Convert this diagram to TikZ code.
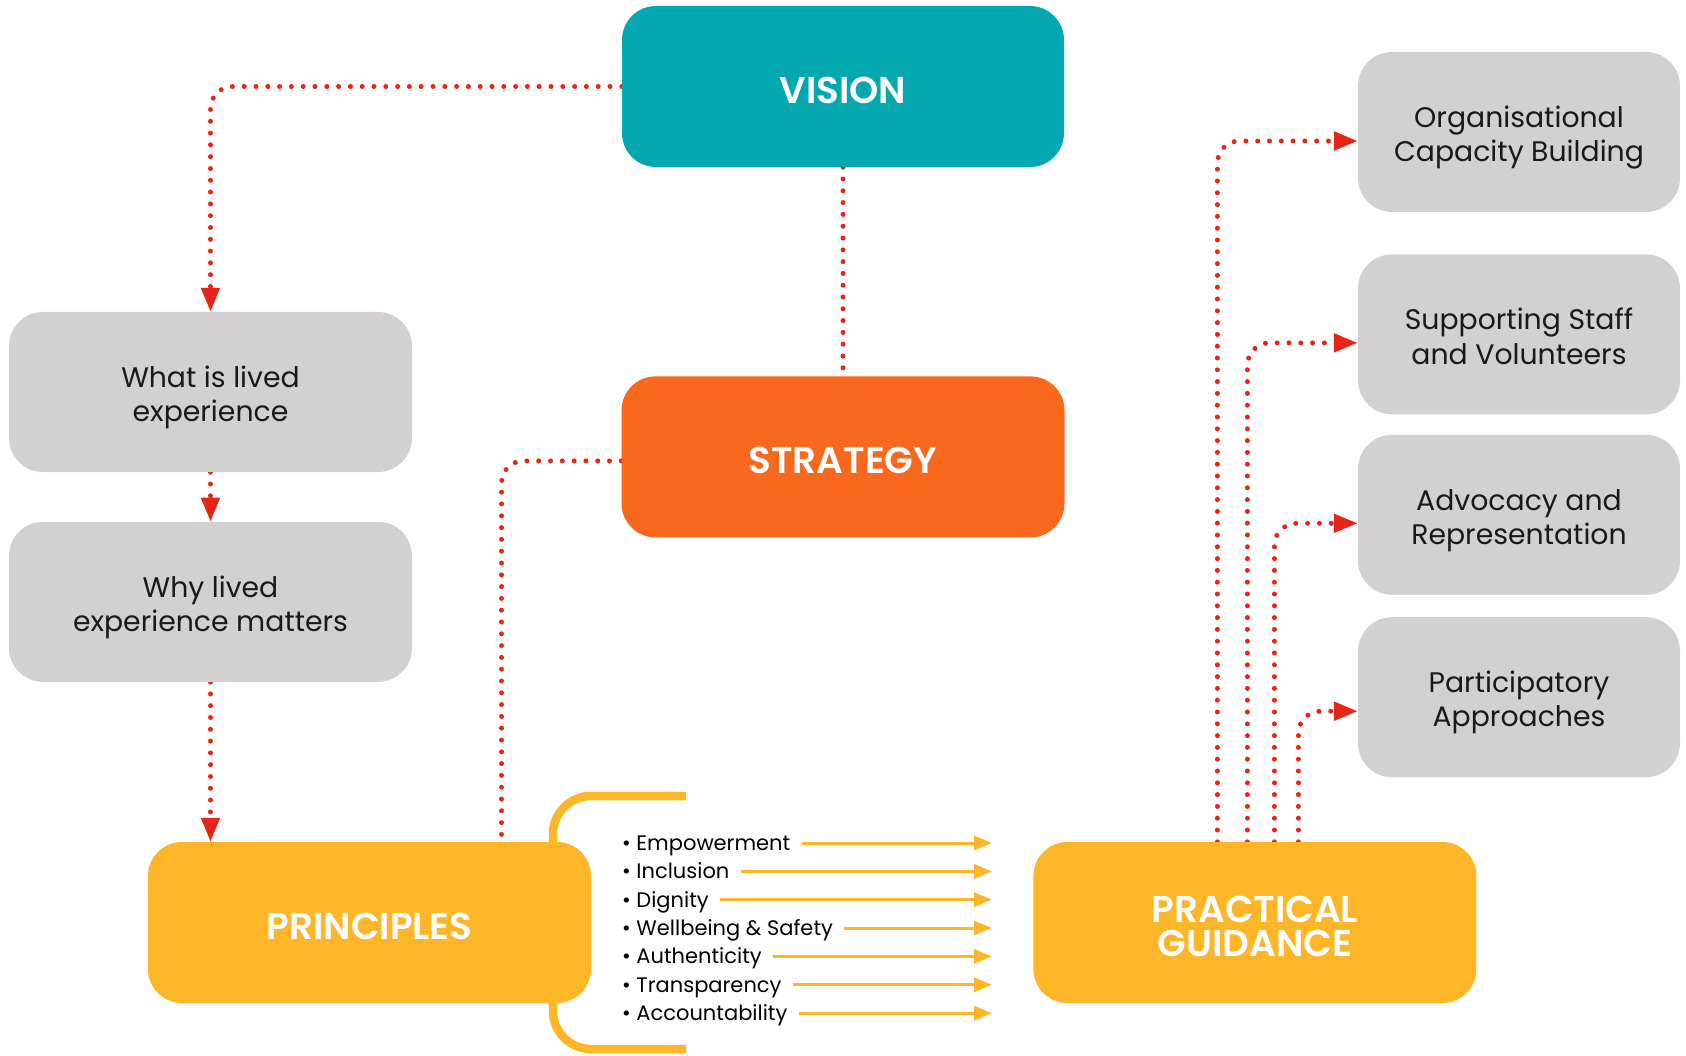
\documentclass[tikz,border=0pt]{standalone}
\usepackage{fontspec}
\setmainfont{Poppins}[BoldFont={* SemiBold}]
\usetikzlibrary{positioning,arrows.meta,backgrounds}

\definecolor{visionteal}{HTML}{02A7AF}
\definecolor{strategyorange}{HTML}{F8681D}
\definecolor{principleyellow}{HTML}{FDB628}
\definecolor{topicgrey}{HTML}{D5D0D0}
\definecolor{linkred}{HTML}{E42518}

\begin{document}
\begin{tikzpicture}[
  x=1pt, y=-1pt,
  >={Triangle[length=24pt,width=18pt]},
  hub/.style    ={rectangle,rounded corners=34pt,align=center,inner sep=0pt,
                  minimum width=443pt,minimum height=161pt,text=white,
                  text height=33.6pt,text depth=0pt,
                  font=\fontsize{37.3}{34}\selectfont\bfseries},
  topic/.style  ={rectangle,rounded corners=34pt,align=center,inner sep=0pt,
                  minimum height=160pt,fill=topicgrey,text=black!90,
                  text height=59.4pt,text depth=0pt,
                  font=\fontsize{28.3}{34.4}\selectfont},
  item/.style   ={anchor=west,inner xsep=0pt,inner ysep=2pt,text height=15pt,
                  text depth=0pt,font=\fontsize{21}{24}\selectfont},
  link/.style   ={linkred,line width=5pt,line cap=round,
                  dash pattern=on 0pt off 11.8pt,rounded corners=22pt},
  pointer/.style={-{Triangle[length=18pt,width=14pt]},principleyellow,line width=3pt},
  bracket/.style={principleyellow,line width=8.5pt,rounded corners=38pt}]

\useasboundingbox (0,0) rectangle (1686,1056);

% --- vision and strategy down the middle ---
\node[hub,fill=visionteal,minimum width=442pt] (vision) at (843,86.5) {VISION};
\node[hub,fill=strategyorange,below=209pt of vision] (strategy) {STRATEGY};

% --- lived experience, left column ---
\node[topic,minimum width=403pt] (lived) at (210.5,392) {What is lived\\experience};
\node[topic,minimum width=403pt,below=49.5pt of lived] (matters)
  {Why lived\\experience matters};

% --- the two yellow blocks along the bottom ---
\node[hub,fill=principleyellow] (principles) at (369.5,922.5) {PRINCIPLES};
\node[hub,fill=principleyellow,text height=67pt,right=442pt of principles] (guidance)
  {PRACTICAL\\GUIDANCE};

% --- guidance topics, right column ---
\node[topic,minimum width=322pt] (capacity) at (1519,132)
  {Organisational\\Capacity Building};
\node[topic,minimum width=322pt,below=42pt of capacity] (staff)
  {Supporting Staff\\and Volunteers};
\node[topic,minimum width=322pt,below=20pt of staff] (advocacy)
  {Advocacy and\\Representation};
\node[topic,minimum width=322pt,below=22pt of advocacy] (participatory)
  {Participatory\\Approaches};

% --- principle list ---
\node[item] (empower)  at (622,843)   {\textbullet\ Empowerment};
\node[item] (inclus)   at (622,871.4) {\textbullet\ Inclusion};
\node[item] (dignity)  at (622,899.7) {\textbullet\ Dignity};
\node[item] (wellb)    at (622,928)   {\textbullet\ Wellbeing \& Safety};
\node[item] (authent)  at (622,956.4) {\textbullet\ Authenticity};
\node[item] (transp)   at (622,984.8) {\textbullet\ Transparency};
\node[item] (account)  at (622,1013.2){\textbullet\ Accountability};

\coordinate (tipline) at (992,0);
\draw[pointer] ([xshift=11pt]empower.east) -- (empower.east -| tipline);
\draw[pointer] ([xshift=11pt]inclus.east)  -- (inclus.east -| tipline);
\draw[pointer] ([xshift=11pt]dignity.east) -- (dignity.east -| tipline);
\draw[pointer] ([xshift=11pt]wellb.east)   -- (wellb.east -| tipline);
\draw[pointer] ([xshift=11pt]authent.east) -- (authent.east -| tipline);
\draw[pointer] ([xshift=11pt]transp.east)  -- (transp.east -| tipline);
\draw[pointer] ([xshift=11pt]account.east) -- (account.east -| tipline);

\begin{scope}[on background layer]
  % bracket hugging the principle list
  \coordinate (bracetop) at (686,796);
  \coordinate (bracebot) at (686,1049);
  \draw[bracket] (bracetop) -- (553,796) -- (553,1049) -- (bracebot);

  % dotted red links
  \draw[link,->] (vision.west) -| (lived.north);
  \draw[link] (vision.south) -- (strategy.north);
  \draw[link,->] (lived.south) -- (matters.north);
  \draw[link,->] (matters.south) -- (matters.south |- principles.north);
  \draw[link] ([yshift=-4pt]strategy.west) -| ([xshift=132pt]principles.north);

  \draw[link,->] ([xshift=-37.5pt]guidance.north) |- ([yshift=-9pt]capacity.west);
  \draw[link,->] ([xshift=-7.5pt]guidance.north)  |- ([yshift=-8.5pt]staff.west);
  \draw[link,->] ([xshift=19.5pt]guidance.north)  |- ([yshift=-8.5pt]advocacy.west);
  \draw[link,->] ([xshift=43.5pt]guidance.north)  |- ([yshift=-14pt]participatory.west);
\end{scope}

\end{tikzpicture}
\end{document}
